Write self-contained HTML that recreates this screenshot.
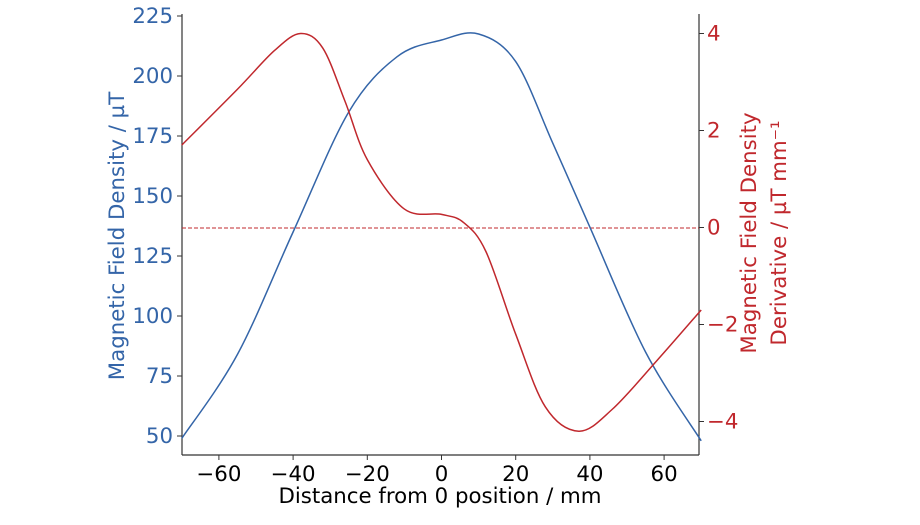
<!DOCTYPE html>
<html><head><meta charset="utf-8"><style>
body{margin:0;background:#fff}
svg text{font-family:"DejaVu Sans","Liberation Sans",sans-serif;font-size:21.3px}
</style></head><body>
<svg id="s" width="920" height="520" xmlns="http://www.w3.org/2000/svg">
<g stroke="#333" stroke-width="1.2" fill="none">
<line x1="182" y1="14" x2="182" y2="455"/>
<line x1="699" y1="14" x2="699" y2="455"/>
<line x1="182" y1="455" x2="699" y2="455"/>
</g>
<line x1="182" y1="228" x2="699" y2="228" stroke="#c0282d" stroke-width="1" stroke-dasharray="4,2"/>
<g id="ticks"></g>
<path id="blue" fill="none" stroke="#3465a8" stroke-width="1.5"/>
<path id="red" fill="none" stroke="#c0282d" stroke-width="1.5"/>
<text x="440" y="503" text-anchor="middle" fill="#000">Distance from 0 position / mm</text>
<text transform="translate(124,236) rotate(-90)" text-anchor="middle" fill="#3465a8">Magnetic Field Density / µT</text>
<text transform="translate(756,233) rotate(-90)" text-anchor="middle" fill="#c0282d">Magnetic Field Density</text>
<text transform="translate(786,233) rotate(-90)" text-anchor="middle" fill="#c0282d">Derivative / µT mm⁻¹</text>
</svg>
<script>
const X=v=>441.5+v*3.71, YL=v=>436-(v-50)*2.4, YR=v=>227.5-v*48.5;
let t='';
for(let v=-60;v<=60;v+=20){let x=X(v);t+=`<line x1="${x}" y1="455" x2="${x}" y2="460" stroke="#333"/><text x="${x}" y="481" text-anchor="middle">${v<0?'−'+(-v):v}</text>`;}
for(let v=50;v<=225;v+=25){let y=YL(v);t+=`<line x1="177" y1="${y}" x2="182" y2="${y}" stroke="#333"/><text x="173" y="${y+7}" text-anchor="end" fill="#3465a8">${v}</text>`;}
for(let v=-4;v<=4;v+=2){let y=YR(v);t+=`<line x1="699" y1="${y}" x2="704" y2="${y}" stroke="#333"/><text x="707" y="${y+7}" fill="#c0282d">${v<0?'−'+(-v):v}</text>`;}
document.getElementById('ticks').innerHTML=t;
function path(pts,fy){let p=pts.map(([a,b])=>[X(a),fy(b)]);let d=`M${p[0][0]},${p[0][1]}`;
for(let i=0;i<p.length-1;i++){let p0=p[Math.max(0,i-1)],p1=p[i],p2=p[i+1],p3=p[Math.min(p.length-1,i+2)];
d+=` C${p1[0]+(p2[0]-p0[0])/6},${p1[1]+(p2[1]-p0[1])/6} ${p2[0]-(p3[0]-p1[0])/6},${p2[1]-(p3[1]-p1[1])/6} ${p2[0]},${p2[1]}`;}return d;}
document.getElementById('blue').setAttribute('d',path([[-70,49],[-55,84],[-40,135],[-25,185],[-12,208],[0,215],[10,217.5],[20,206],[30,172],[40,137],[55,85],[70,48]],YL));
document.getElementById('red').setAttribute('d',path([[-70,1.7],[-55,2.85],[-45,3.65],[-38,4.0],[-32,3.7],[-26,2.6],[-20,1.4],[-10,0.38],[0,0.27],[6,0.1],[12,-0.5],[20,-2.2],[28,-3.7],[37,-4.2],[46,-3.75],[58,-2.75],[70,-1.7]],YR));
</script>
</body></html>
